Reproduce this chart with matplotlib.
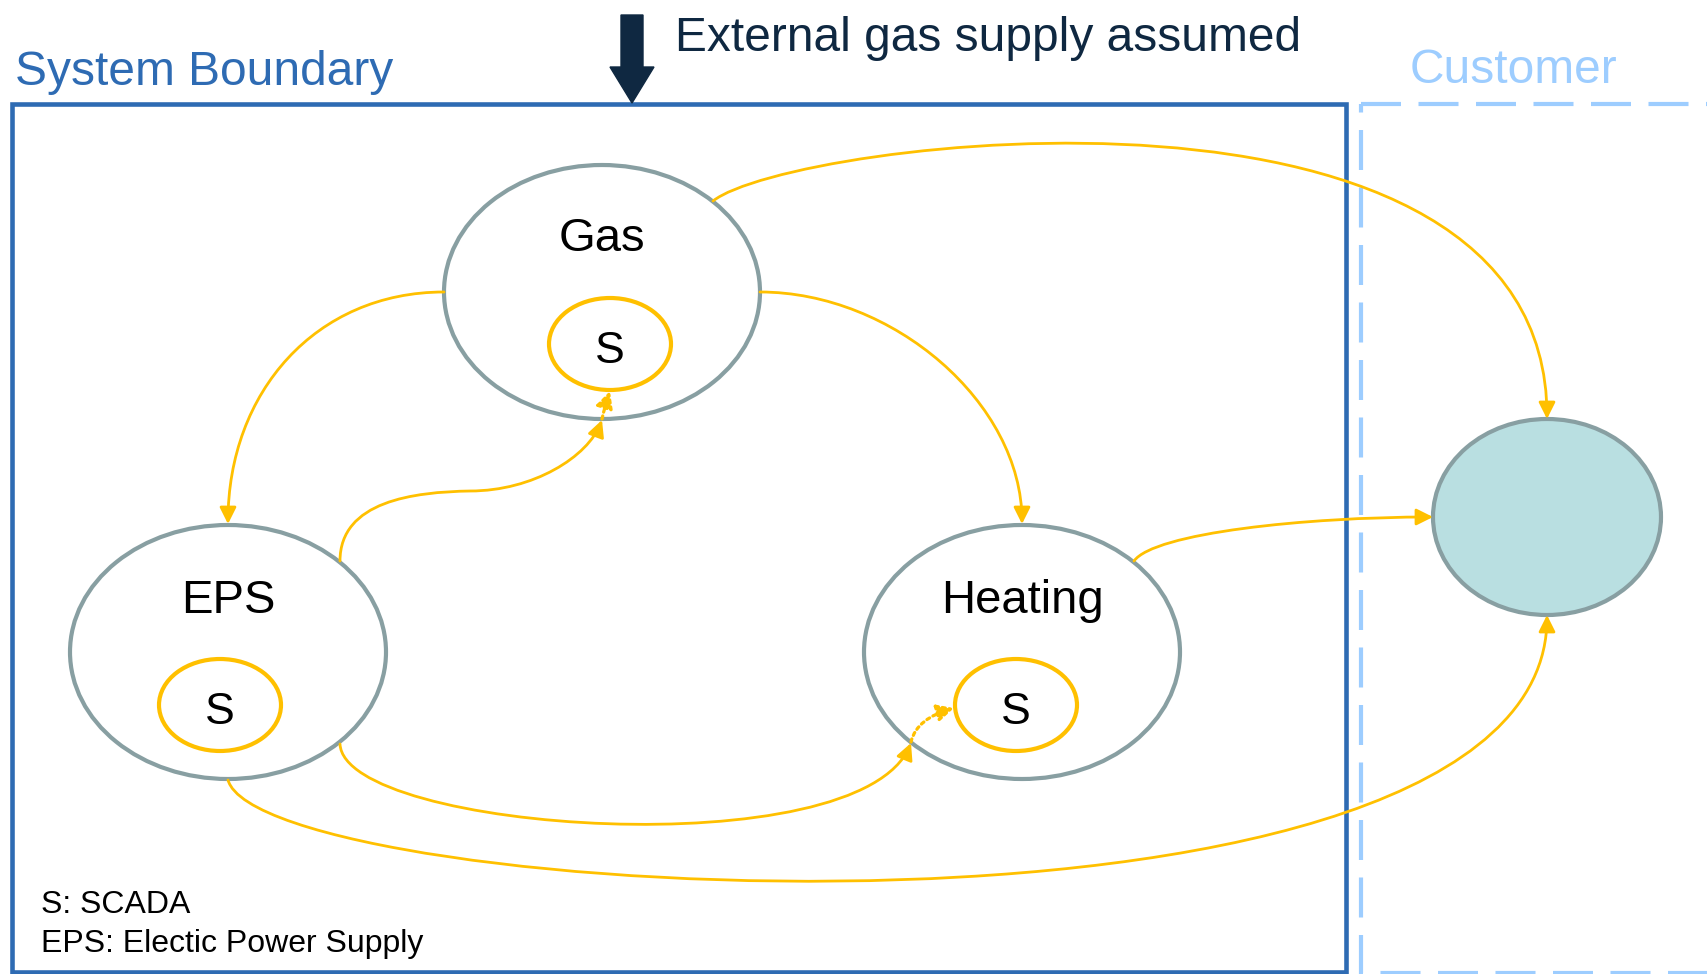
import matplotlib.pyplot as plt
from matplotlib.patches import Ellipse, Rectangle, FancyArrowPatch
from matplotlib.path import Path

plt.rcParams['font.family'] = ['Liberation Sans', 'DejaVu Sans']

# nodes (pixel coords, y down)
nodeNames = ['Gas', 'EPS', 'Heating']
nodeCenters = [(602, 292), (228, 652), (1022, 652)]
nodeRadii = (158, 127)
labelBaselines = [251, 613, 613]
scadaCenters = [(610, 344), (220, 705), (1016, 705)]
scadaRadii = (61, 46)
customerCenter = (1547, 517)
customerRadii = (114, 98)

# arrows: lists of bezier points (cubic segments)
solidArrows = [
    [(444, 292), (316, 292), (228, 392), (228, 524)],           # Gas -> EPS
    [(760, 292), (893, 292), (1022, 403), (1022, 524)],         # Gas -> Heating
    [(713, 201), (790, 140), (1547, 45), (1547, 419)],          # Gas -> Customer
    [(1134, 561), (1154, 533), (1306, 517), (1433, 517)],       # Heating -> Customer
    [(228, 780), (262, 902), (1547, 978), (1547, 615)],         # EPS -> Customer
    [(340, 744), (344, 832), (860, 868), (911, 743)],           # EPS -> Heating
    [(340, 561), (340, 501), (414, 492), (470, 491),
     (533, 491), (588, 457), (602, 420)],                       # EPS -> Gas
]
dottedArrows = [
    [(602, 419), (604, 410), (607, 400), (610, 391)],
    [(911, 742), (915, 725), (930, 715), (954, 708)],
]

yellow = '#FFC000'
grey = '#889FA2'
blue = '#2E6BB3'
lightblue = '#9DCDFF'
navy = '#0F2841'

fig = plt.figure(figsize=(17.07, 9.74), dpi=100)
ax = fig.add_axes([0, 0, 1, 1])
ax.set_xlim(0, 1707)
ax.set_ylim(974, 0)
ax.axis('off')

# boxes
ax.add_patch(Rectangle((12, 104), 1334, 868, fill=False, ec=blue, lw=3.3, zorder=1))
ax.add_patch(Rectangle((1361, 104), 400, 869, fill=False, ec=lightblue, lw=3.0,
                       linestyle=(0, (9.6, 4.2)), zorder=1))

ax.text(15, 85, 'System Boundary', fontsize=34.5, color=blue, va='baseline')
ax.text(1410, 83, 'Customer', fontsize=34.5, color=lightblue, va='baseline')
ax.text(675, 51, 'External gas supply assumed', fontsize=34.5, color=navy, va='baseline')
ax.arrow(632, 15, 0, 88, width=22, head_width=44, head_length=36,
         length_includes_head=True, color=navy, zorder=3)

# nodes
for name, c, yb, sc in zip(nodeNames, nodeCenters, labelBaselines, scadaCenters):
    ax.add_patch(Ellipse(c, 2 * nodeRadii[0], 2 * nodeRadii[1], fc='white', ec=grey, lw=3.0, zorder=2))
    ax.add_patch(Ellipse(sc, 2 * scadaRadii[0], 2 * scadaRadii[1], fc='white', ec=yellow, lw=3.0, zorder=2))
    ax.text(c[0], yb, name, fontsize=34, ha='center', va='baseline', zorder=4)
    ax.text(sc[0], sc[1] + 19, 'S', fontsize=32, ha='center', va='baseline', zorder=4)

ax.add_patch(Ellipse(customerCenter, 2 * customerRadii[0], 2 * customerRadii[1],
                     fc='#B9DFE1', ec=grey, lw=3.0, zorder=2))


def bezier(pts):
    codes = [Path.MOVETO] + [Path.CURVE4] * (len(pts) - 1)
    return Path(pts, codes)


for pts in solidArrows:
    ax.add_patch(FancyArrowPatch(path=bezier(pts), arrowstyle='-|>,head_length=0.5,head_width=0.25',
                                 mutation_scale=20, color=yellow, lw=2.0, zorder=5))
for pts in dottedArrows:
    ax.add_patch(FancyArrowPatch(path=bezier(pts), arrowstyle='-|>,head_length=0.5,head_width=0.25',
                                 mutation_scale=20, color=yellow, lw=2.3, linestyle=(0, (1, 1.2)), zorder=5))

# legend text
ax.text(41, 913, 'S: SCADA', fontsize=23, va='baseline')
ax.text(41, 952, 'EPS: Electic Power Supply', fontsize=23, va='baseline')

fig.savefig('out.png', dpi=100)
